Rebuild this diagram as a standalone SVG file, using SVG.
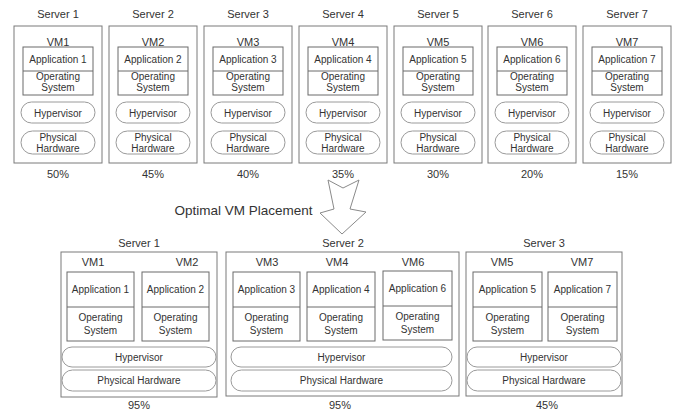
<svg xmlns="http://www.w3.org/2000/svg" width="689" height="414" viewBox="0 0 689 414">
<style>
text{font-family:"Liberation Sans",Arial,sans-serif;fill:#333;text-anchor:middle}
.t11{font-size:11px}
.t10{font-size:10px}
.box{fill:#fff;stroke:#7a7a7a;stroke-width:1}
.vm{fill:#fff;stroke:#6a6a6a;stroke-width:1}
.pill{fill:#fff;stroke:#9a9a9a;stroke-width:1}
</style>
<rect width="689" height="414" fill="#fff"/>
<defs>
<g id="oldsrv">
<rect class="box" x="0" y="26" width="88" height="137"/>
<rect class="vm" x="9" y="47" width="70" height="48"/>
<line x1="9" y1="71" x2="79" y2="71" stroke="#6a6a6a"/>
<text class="t10" x="44" y="79.5">Operating</text>
<text class="t10" x="44" y="91">System</text>
<rect class="pill" x="7" y="102" width="74" height="21" rx="10.5"/>
<text class="t10" x="44" y="116.5">Hypervisor</text>
<rect class="pill" x="7" y="131" width="74" height="23" rx="11.5"/>
<text class="t10" x="44" y="140.5">Physical</text>
<text class="t10" x="44" y="151.5">Hardware</text>
</g>
</defs>
<g id="server1">
<use href="#oldsrv" x="14"/>
<text class="t11" x="58" y="18">Server 1</text>
<text class="t11" x="58" y="46">VM1</text>
<text class="t10" x="58" y="62.5">Application 1</text>
<text class="t11" x="58" y="178">50%</text>
</g>
<g id="server2">
<use href="#oldsrv" x="109"/>
<text class="t11" x="153" y="18">Server 2</text>
<text class="t11" x="153" y="46">VM2</text>
<text class="t10" x="153" y="62.5">Application 2</text>
<text class="t11" x="153" y="178">45%</text>
</g>
<g id="server3">
<use href="#oldsrv" x="204"/>
<text class="t11" x="248" y="18">Server 3</text>
<text class="t11" x="248" y="46">VM3</text>
<text class="t10" x="248" y="62.5">Application 3</text>
<text class="t11" x="248" y="178">40%</text>
</g>
<g id="server4">
<use href="#oldsrv" x="299"/>
<text class="t11" x="343" y="18">Server 4</text>
<text class="t11" x="343" y="46">VM4</text>
<text class="t10" x="343" y="62.5">Application 4</text>
<text class="t11" x="343" y="178">35%</text>
</g>
<g id="server5">
<use href="#oldsrv" x="394"/>
<text class="t11" x="438" y="18">Server 5</text>
<text class="t11" x="438" y="46">VM5</text>
<text class="t10" x="438" y="62.5">Application 5</text>
<text class="t11" x="438" y="178">30%</text>
</g>
<g id="server6">
<use href="#oldsrv" x="488"/>
<text class="t11" x="532" y="18">Server 6</text>
<text class="t11" x="532" y="46">VM6</text>
<text class="t10" x="532" y="62.5">Application 6</text>
<text class="t11" x="532" y="178">20%</text>
</g>
<g id="server7">
<use href="#oldsrv" x="583"/>
<text class="t11" x="627" y="18">Server 7</text>
<text class="t11" x="627" y="46">VM7</text>
<text class="t10" x="627" y="62.5">Application 7</text>
<text class="t11" x="627" y="178">15%</text>
</g>
<g id="connectors">
<path d="M328,180 L343,188 L359,180 L350,209 L366,212 L342,234 L320,213 L334,209 Z" fill="#fff" stroke="#8a8a8a" stroke-width="1"/>
</g>
<text x="243.5" y="215" style="font-size:13.5px">Optimal VM Placement</text>
<g id="newserver1">
<rect class="box" x="61" y="252" width="156" height="145"/>
<text class="t11" x="139" y="247">Server 1</text>
<text class="t11" x="93" y="266">VM1</text>
<text class="t11" x="187" y="266">VM2</text>
<rect class="vm" x="67" y="272" width="67" height="69"/>
<line x1="67" y1="307" x2="134" y2="307" stroke="#6a6a6a"/>
<text class="t10" x="100.5" y="292.5">Application 1</text>
<text class="t10" x="100.5" y="320.5">Operating</text>
<text class="t10" x="100.5" y="333.5">System</text>
<rect class="vm" x="142" y="272" width="67" height="69"/>
<line x1="142" y1="307" x2="209" y2="307" stroke="#6a6a6a"/>
<text class="t10" x="175.5" y="292.5">Application 2</text>
<text class="t10" x="175.5" y="320.5">Operating</text>
<text class="t10" x="175.5" y="333.5">System</text>
<rect class="pill" x="62" y="347" width="154" height="20" rx="10"/>
<text class="t10" x="139" y="360.5">Hypervisor</text>
<rect class="pill" x="62" y="370" width="154" height="21" rx="10.5"/>
<text class="t10" x="139" y="384">Physical Hardware</text>
<text class="t11" x="139" y="409">95%</text>
</g>
<g id="newserver2">
<rect class="box" x="226" y="252" width="233" height="144"/>
<text class="t11" x="343" y="247">Server 2</text>
<text class="t11" x="267" y="266">VM3</text>
<text class="t11" x="337" y="266">VM4</text>
<text class="t11" x="413" y="266">VM6</text>
<rect class="vm" x="233" y="272" width="67" height="69"/>
<line x1="233" y1="307" x2="300" y2="307" stroke="#6a6a6a"/>
<text class="t10" x="266.5" y="292.5">Application 3</text>
<text class="t10" x="266.5" y="320.5">Operating</text>
<text class="t10" x="266.5" y="333.5">System</text>
<rect class="vm" x="307" y="272" width="68" height="69"/>
<line x1="307" y1="307" x2="375" y2="307" stroke="#6a6a6a"/>
<text class="t10" x="341" y="292.5">Application 4</text>
<text class="t10" x="341" y="320.5">Operating</text>
<text class="t10" x="341" y="333.5">System</text>
<rect class="vm" x="383" y="271" width="69" height="69"/>
<line x1="383" y1="306" x2="452" y2="306" stroke="#6a6a6a"/>
<text class="t10" x="417.5" y="291.5">Application 6</text>
<text class="t10" x="417.5" y="319.5">Operating</text>
<text class="t10" x="417.5" y="332.5">System</text>
<rect class="pill" x="231" y="347" width="221" height="20" rx="10"/>
<text class="t10" x="341.5" y="360.5">Hypervisor</text>
<rect class="pill" x="231" y="370" width="221" height="21" rx="10.5"/>
<text class="t10" x="341.5" y="384">Physical Hardware</text>
<text class="t11" x="340" y="409">95%</text>
</g>
<g id="newserver3">
<rect class="box" x="466" y="252" width="156" height="144"/>
<text class="t11" x="544" y="247">Server 3</text>
<text class="t11" x="502" y="266">VM5</text>
<text class="t11" x="582" y="266">VM7</text>
<rect class="vm" x="473" y="272" width="69" height="69"/>
<line x1="473" y1="307" x2="542" y2="307" stroke="#6a6a6a"/>
<text class="t10" x="507.5" y="292.5">Application 5</text>
<text class="t10" x="507.5" y="320.5">Operating</text>
<text class="t10" x="507.5" y="333.5">System</text>
<rect class="vm" x="548" y="272" width="69" height="69"/>
<line x1="548" y1="307" x2="617" y2="307" stroke="#6a6a6a"/>
<text class="t10" x="582.5" y="292.5">Application 7</text>
<text class="t10" x="582.5" y="320.5">Operating</text>
<text class="t10" x="582.5" y="333.5">System</text>
<rect class="pill" x="467" y="347" width="154" height="20" rx="10"/>
<text class="t10" x="544" y="360.5">Hypervisor</text>
<rect class="pill" x="467" y="370" width="154" height="21" rx="10.5"/>
<text class="t10" x="544" y="384">Physical Hardware</text>
<text class="t11" x="547" y="409">45%</text>
</g>
</svg>
